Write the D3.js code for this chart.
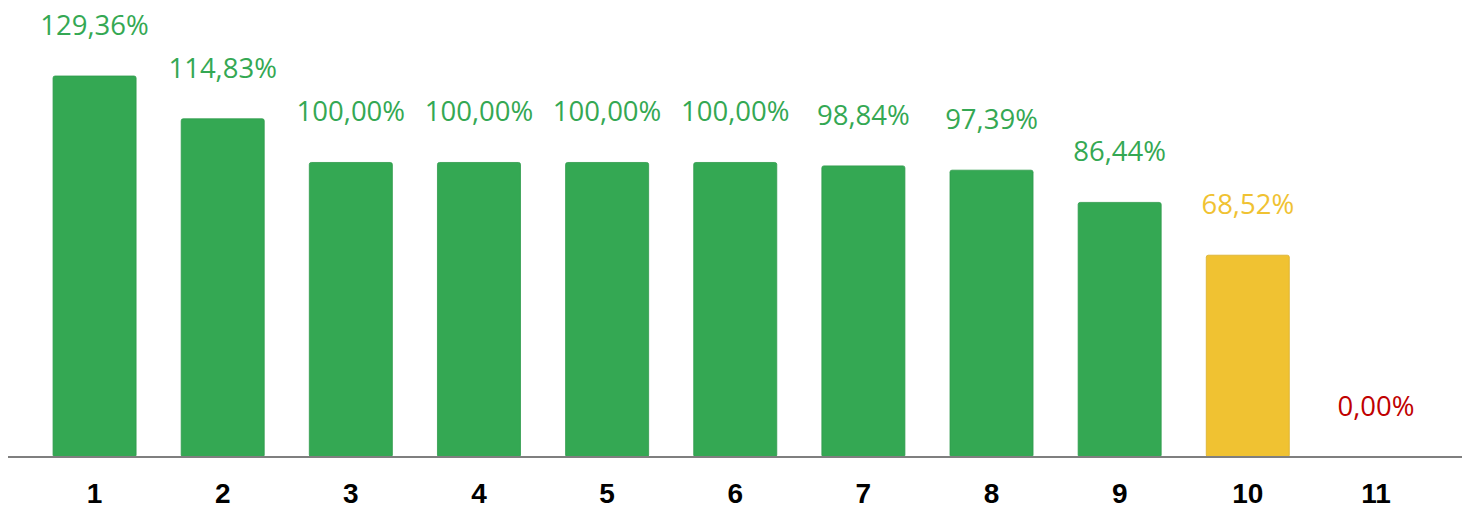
<!DOCTYPE html>
<html><head><meta charset="utf-8">
<script src="https://cdn.jsdelivr.net/npm/d3@7"></script>
<style>html,body{margin:0;padding:0;background:#fff;overflow:hidden}</style>
</head><body><svg id="c" width="1468" height="507"></svg>
<script>
const categories = ["1","2","3","4","5","6","7","8","9","10","11"];
const values = [129.36,114.83,100.00,100.00,100.00,100.00,98.84,97.39,86.44,68.52,0.00];
const labels = ["129,36%","114,83%","100,00%","100,00%","100,00%","100,00%","98,84%","97,39%","86,44%","68,52%","0,00%"];

const svg = d3.select("#c");
const baseY = 457;
const x = d3.scaleBand().domain(categories).range([30.5, 1440]).paddingInner(0.352).paddingOuter(0.176);
const y = d3.scaleLinear().domain([0, 129.36]).range([baseY, 76]);
const color = v => v >= 80 ? "#34A853" : (v > 0 ? "#F0C232" : "#C00000");
const barStroke = v => v >= 80 ? "#2f9a4b" : "#d9b02c";

svg.append("g").selectAll("rect").data(values).join("rect")
  .attr("x", (d,i) => x(categories[i]))
  .attr("width", x.bandwidth())
  .attr("y", d => y(d))
  .attr("height", d => baseY - y(d))
  .attr("rx", 2)
  .attr("fill", d => color(d))
  .attr("stroke", d => d > 0 ? barStroke(d) : "none")
  .attr("stroke-width", 0.8);

svg.append("line").attr("x1", 8).attr("x2", 1462).attr("y1", baseY).attr("y2", baseY)
  .attr("stroke", "#7f7f7f").attr("stroke-width", 2);

svg.append("g").selectAll("text").data(values).join("text")
  .attr("x", (d,i) => x(categories[i]) + x.bandwidth()/2)
  .attr("y", d => y(d) - 41)
  .attr("text-anchor", "middle")
  .attr("font-family", "'Open Sans', sans-serif")
  .attr("font-size", 27.5)
  .attr("fill", d => color(d))
  .attr("stroke", "#ffffff").attr("stroke-width", 2.5).attr("stroke-opacity", 0.9)
  .attr("paint-order", "stroke")
  .text((d,i) => labels[i]);

const xAxis = d3.axisBottom(x).tickSize(0).tickPadding(0);
const ga = svg.append("g").attr("transform", `translate(0,${baseY})`).call(xAxis);
ga.select(".domain").remove();
ga.selectAll("text")
  .attr("y", 45.5).attr("dy", 0)
  .attr("font-family", "'Liberation Sans', Arial, sans-serif")
  .attr("font-size", 28).attr("font-weight", "bold").attr("fill", "#000");
</script></body></html>
